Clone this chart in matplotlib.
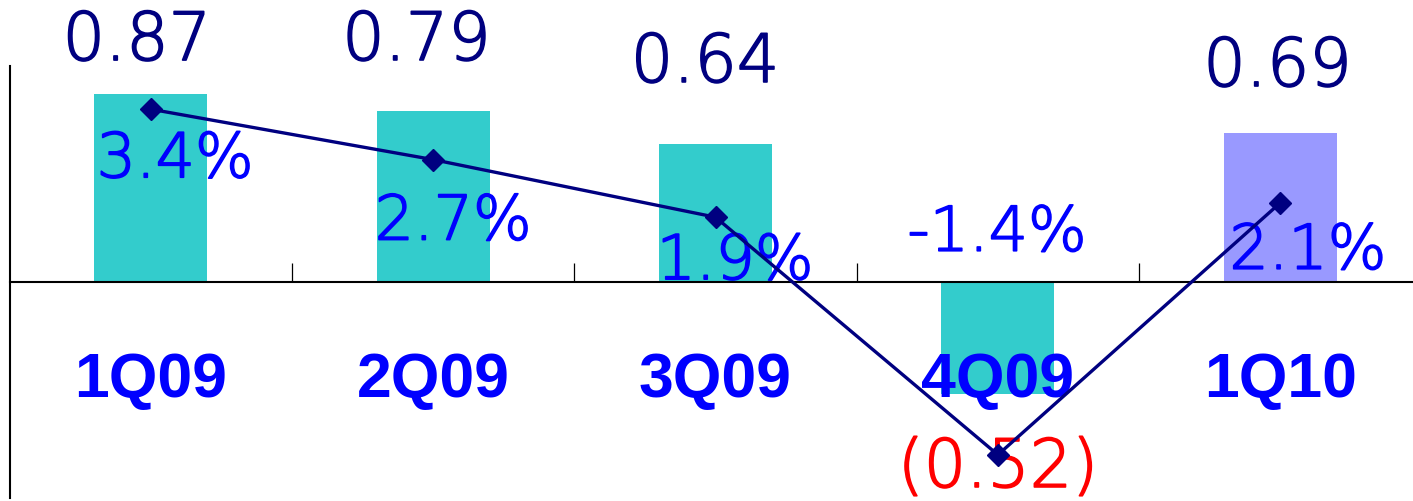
import matplotlib
matplotlib.use("Agg")
import matplotlib.pyplot as plt
import matplotlib.patheffects as pe
import numpy as np

# data
quarters = ['1Q09', '2Q09', '3Q09', '4Q09', '1Q10']
eps = [0.87, 0.79, 0.64, -0.52, 0.69]
growth = [3.4, 2.7, 1.9, -1.4, 2.1]

# label placement (points, relative to bar end / marker), tuned by eye
eps_offsets = [(-10, 24.5), (-12, 37), (-7.5, 44.5), (0, -66.7), (-2, 33.8)]
growth_offsets = [(17.6, -49), (14.4, -57.6), (14, -44.6), (-0.7, 146.9), (19.8, -47.5)]

bar_colors = ['#33CCCC', '#33CCCC', '#33CCCC', '#33CCCC', '#9999FF']
navy = '#000080'
blue = '#0000FF'

fig = plt.figure(figsize=(14.13, 5.02), dpi=100)
ax = fig.add_axes([9.5 / 1413, 3 / 502, 1412 / 1413, 432 / 502])

x = np.arange(len(quarters))
ax.bar(x, eps, width=0.4, color=bar_colors, zorder=2)
ax.set_xlim(-0.5, 4.5)
ax.set_ylim(-1.0, 1.0)

# axis styling: category axis crosses at zero, ticks between categories
for s in ['top', 'right']:
    ax.spines[s].set_visible(False)
ax.spines['bottom'].set_position(('data', 0))
ax.spines['bottom'].set_linewidth(1.5)
ax.spines['bottom'].set_zorder(3)
ax.spines['left'].set_linewidth(1.5)
ax.set_xticks([])
ax.set_xticks(x[:-1] + 0.5, minor=True)
ax.tick_params(axis='x', which='minor', direction='in', length=14, width=0.9, labelbottom=False)
ax.set_yticks([])

# the light font is a bit too thin, thicken it with a same-colour stroke
def thicken(col):
    return [pe.withStroke(linewidth=1.2, foreground=col)]

# eps labels
for i, v in enumerate(eps):
    if v < 0:
        txt = f"({abs(v):.2f})"
        col = 'red'
    else:
        txt = f"{v:.2f}"
        col = navy
    ax.annotate(txt, xy=(i, v), xytext=eps_offsets[i], textcoords='offset points',
                ha='center', va='baseline', fontsize=48, color=col,
                family='DejaVu Sans', fontweight='light', path_effects=thicken(col))

# category labels below the zero line
for i, q in enumerate(quarters):
    ax.text(i, -0.528, q, ha='center', va='baseline', fontsize=45,
            fontweight='bold', color=blue, family='Liberation Sans')

# growth line on secondary axis
ax2 = ax.twinx()
ax2.plot(x, growth, color=navy, lw=2.4, marker='D', ms=11, mew=1, zorder=4)
ax2.set_ylim(-2, 4)
ax2.set_yticks([])
for s in ax2.spines.values():
    s.set_visible(False)

for i, g in enumerate(growth):
    ax.annotate(f"{g:.1f}%", xy=(i, g), xycoords=ax2.transData,
                xytext=growth_offsets[i], textcoords='offset points',
                ha='center', va='baseline', fontsize=44.5, color=blue,
                family='DejaVu Sans', fontweight='light', path_effects=thicken(blue))

fig.savefig('out.png', dpi=100)
